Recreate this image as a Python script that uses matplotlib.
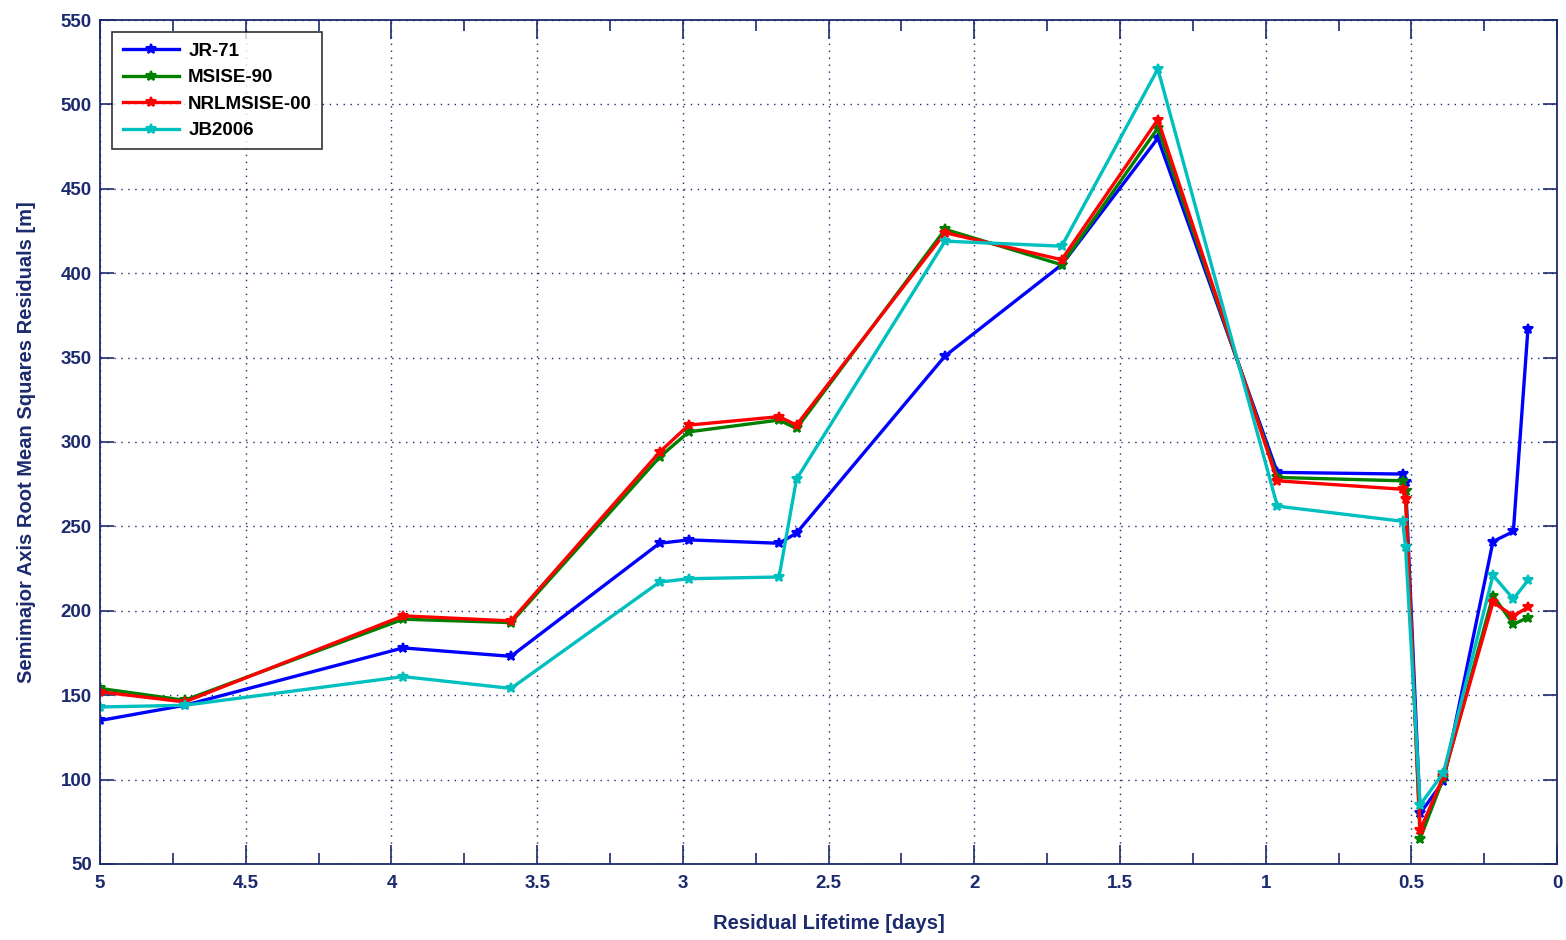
import matplotlib
matplotlib.use("Agg")
import matplotlib.pyplot as plt
from matplotlib.ticker import MultipleLocator

navy = "#1c2a6e"
plt.rcParams["font.family"] = ["Liberation Sans", "DejaVu Sans"]
plt.rcParams["font.weight"] = "bold"

# residual lifetime [days]
days = [5.0, 4.71, 3.96, 3.59, 3.08, 2.98, 2.67, 2.61, 2.10, 1.70, 1.37,
        0.96, 0.53, 0.52, 0.47, 0.39, 0.22, 0.15, 0.10]

jr71 = [135, 144, 178, 173, 240, 242, 240, 246, 351, 405, 480,
        282, 281, 276, 80, 99, 241, 247, 367]
msise90 = [154, 147, 195, 193, 291, 306, 313, 308, 426, 405, 486,
           279, 277, 271, 65, 101, 209, 192, 196]
nrlmsise00 = [152, 146, 197, 194, 294, 310, 315, 310, 424, 408, 491,
              277, 272, 266, 70, 102, 205, 197, 202]
jb2006 = [143, 144, 161, 154, 217, 219, 220, 278, 419, 416, 521,
          262, 253, 238, 85, 104, 221, 207, 218]

series = [("JR-71", jr71, "#0000ff"),
          ("MSISE-90", msise90, "#008000"),
          ("NRLMSISE-00", nrlmsise00, "#ff0000"),
          ("JB2006", jb2006, "#00bfbf")]

fig = plt.figure(figsize=(15.66, 9.40), dpi=100)
ax = fig.add_axes([0.0639, 0.0809, 0.9304, 0.8978])

for name, vals, col in series:
    ax.plot(days, vals, color=col, lw=2.4, marker="*", ms=7, mew=1.5, label=name)

ax.set_xlim(5, 0)
ax.set_ylim(50, 550)
ax.xaxis.set_major_locator(MultipleLocator(0.5))
ax.xaxis.set_minor_locator(MultipleLocator(0.25))
ax.yaxis.set_major_locator(MultipleLocator(50))
ax.grid(True, which="major", linestyle=(0, (1, 4)), color=navy, lw=1)

ax.tick_params(which="both", direction="in", top=True, right=True,
               colors=navy, labelsize=13.5, width=1.2)
ax.tick_params(which="major", length=14)
ax.tick_params(which="minor", length=8)
ax.tick_params(axis="y", which="major", length=10, pad=6)
ax.tick_params(axis="x", which="major", pad=8)
ax.set_xticks([5, 4.5, 4, 3.5, 3, 2.5, 2, 1.5, 1, 0.5, 0])
ax.set_xticklabels(["5", "4.5", "4", "3.5", "3", "2.5", "2", "1.5", "1", "0.5", "0"])
for lab in ax.get_xticklabels() + ax.get_yticklabels():
    lab.set_fontweight("bold")
for sp in ax.spines.values():
    sp.set_color(navy)
    sp.set_linewidth(1.3)

ax.set_xlabel("Residual Lifetime [days]", color=navy, fontsize=14.5,
              fontweight="bold", labelpad=16)
ax.set_ylabel("Semimajor Axis Root Mean Squares Residuals [m]", color=navy,
              fontsize=14.5, fontweight="bold", labelpad=18)

leg = ax.legend(loc="upper left", fontsize=13.5, frameon=True, fancybox=False,
                edgecolor="black", borderaxespad=0.65, handlelength=3.0,
                labelspacing=0.5, borderpad=0.55, handletextpad=0.5)
leg.get_frame().set_linewidth(1.2)
for t in leg.get_texts():
    t.set_fontweight("bold")

fig.savefig("out.png", dpi=100, facecolor="white")
